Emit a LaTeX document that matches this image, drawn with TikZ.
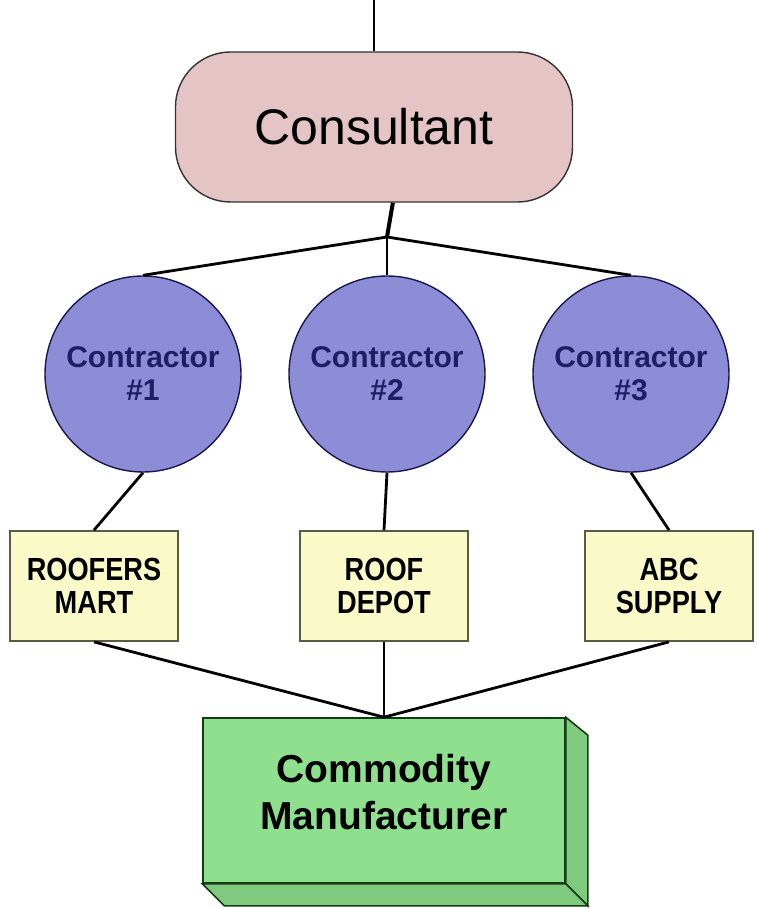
\documentclass[tikz,border=0pt]{standalone}
\usepackage{fontspec}
\setmainfont{Liberation Sans}
\newfontfamily\boxfont[FakeStretch=0.85]{Liberation Sans}
\usepackage{tikz}
\usetikzlibrary{calc}
\definecolor{conspink}{RGB}{228,196,196}
\definecolor{contblue}{RGB}{140,140,215}
\definecolor{contnavy}{RGB}{30,30,100}
\definecolor{supyellow}{RGB}{250,250,200}
\definecolor{supedge}{RGB}{90,90,70}
\definecolor{mfrgreen}{RGB}{142,224,142}
\definecolor{mfredge}{RGB}{20,60,20}

\begin{document}
\begin{tikzpicture}[x=1pt, y=-1pt,
  link/.style={line width=2.8pt},
  consultant/.style={draw=black!80, line width=1.4pt, fill=conspink, rounded corners=55pt,
    minimum width=397pt, minimum height=150pt, font=\fontsize{50}{60}\selectfont},
  contractor/.style={circle, draw=contnavy!80!black, line width=1.4pt, fill=contblue,
    minimum size=196pt, inner sep=0pt, align=center, text=contnavy,
    font=\fontsize{30}{33}\selectfont\bfseries},
  supplier/.style={draw=supedge, line width=1.8pt, fill=supyellow, minimum width=168pt,
    minimum height=110pt, align=center, font=\boxfont\bfseries\fontsize{32}{33}\selectfont},
  mfr/.style={draw=mfredge, line width=1.6pt, fill=mfrgreen, minimum width=362pt,
    minimum height=165pt, align=center, font=\fontsize{39}{47}\selectfont\bfseries}]
\useasboundingbox (0,0) rectangle (756,909);

\node[consultant] (cons) at (374,127) {Consultant};
\coordinate (top) at (374,0);
\coordinate (jc) at (387,237);

\foreach \i/\x in {1/143,2/387,3/631}{
  \node[contractor] (c\i) at (\x,374) {Contractor\\\#\i};
}

\node[supplier] (b1) at (94,586) {ROOFERS\\MART};
\node[supplier] (b2) at (384,586) {ROOF\\DEPOT};
\node[supplier] (b3) at (669,586) {ABC\\SUPPLY};

% 3d box for the manufacturer
\node[mfr] (man) at (384,800.5) {};
\filldraw[draw=mfredge, line width=1.6pt, fill=mfrgreen!90!black]
  (man.north east) -- ++(22,18) -- ($(man.south east)+(22,22)$) -- (man.south east) -- cycle;
\filldraw[draw=mfredge, line width=1.6pt, fill=mfrgreen!90!black]
  (man.south west) -- ++(22,22) -- ($(man.south east)+(22,22)$) -- (man.south east) -- cycle;
\node[font=\fontsize{39}{47}\selectfont\bfseries, align=center] (mtxt) at ([yshift=8pt]man.center)
  {Commodity\\Manufacturer};

\draw[link] (top) -- (cons.north);
\draw[line width=4pt] (cons.-76) -- (jc);
\draw[link] (jc) -- (c1.north);
\draw[link] (jc) -- (c2.north);
\draw[link] (jc) -- (c3.north);
\foreach \i in {1,2,3}{
  \draw[link] (c\i.south) -- (b\i.north);
  \draw[link] (b\i.south) -- (man.north);
}
\end{tikzpicture}
\end{document}
